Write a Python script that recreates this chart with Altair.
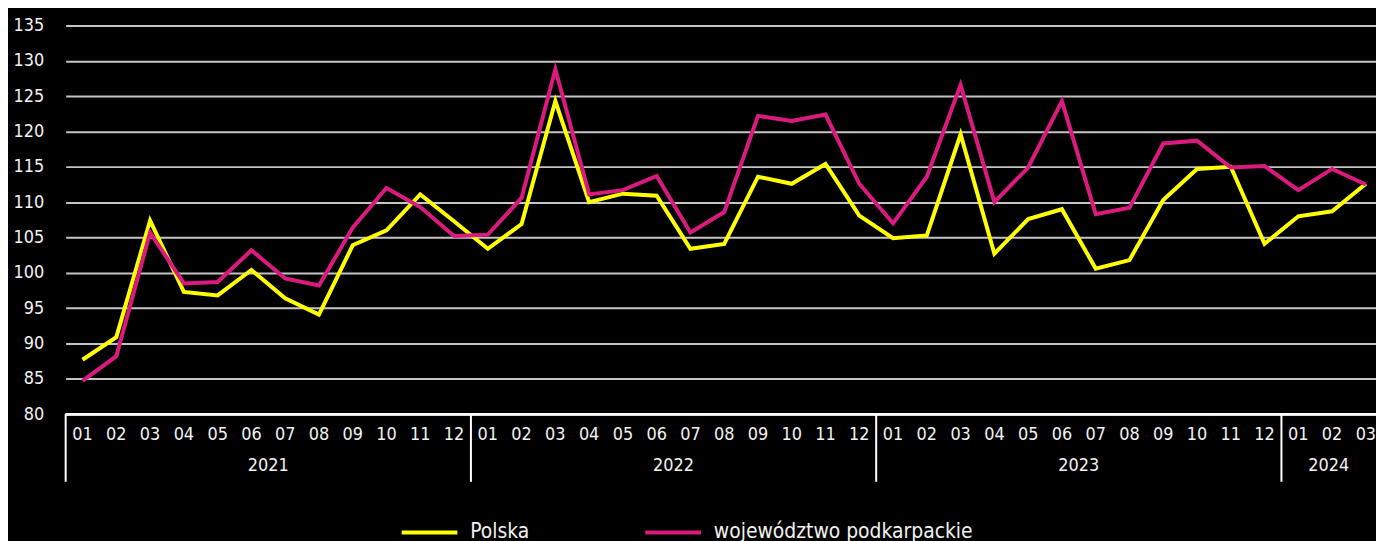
import altair as alt
import pandas as pd

months = ["01", "02", "03", "04", "05", "06", "07", "08", "09", "10", "11", "12"] * 3 + ["01", "02", "03"]
years = ["2021"] * 12 + ["2022"] * 12 + ["2023"] * 12 + ["2024"] * 3

polska = [87.7, 90.9, 107.4, 97.3, 96.8, 100.4, 96.4, 94.1, 103.9, 106.0, 111.1, 107.3,
          103.4, 106.9, 124.3, 110.0, 111.2, 110.9, 103.4, 104.1, 113.6, 112.6, 115.4, 108.1,
          104.9, 105.3, 119.6, 102.7, 107.6, 109.0, 100.6, 101.8, 110.3, 114.7, 115.0, 104.1,
          108.0, 108.7, 112.6]
podkarpackie = [84.7, 88.2, 105.7, 98.5, 98.7, 103.2, 99.2, 98.2, 106.4, 112.0, 109.3, 105.2,
                105.4, 110.6, 128.8, 111.1, 111.7, 113.7, 105.7, 108.6, 122.2, 121.5, 122.4, 112.6,
                107.0, 113.6, 126.6, 110.0, 114.9, 124.3, 108.3, 109.2, 118.3, 118.7, 114.9, 115.1,
                111.7, 114.7, 112.5]
series_names = ["Polska", "województwo podkarpackie"]
series_colors = ["#FFFF00", "#DA1A7E"]

FONT = "DejaVu Sans Condensed, Roboto, sans-serif"
FS = 18
LFS = 21
W, H = 1318, 391
XMAX = 38.3

n = len(months)
idx = list(range(n))
rows = []
for i in idx:
    rows.append({"i": i, "v": polska[i], "s": series_names[0], "o": 0})
    rows.append({"i": i, "v": podkarpackie[i], "s": series_names[1], "o": 1})
df = pd.DataFrame(rows)

mdf = pd.DataFrame({"i": idx, "m": months, "y": years})
ydf = mdf.groupby("y", as_index=False).agg(lo=("i", "min"), hi=("i", "max"))
ydf["c"] = (ydf["lo"] - 0.5 + ydf["hi"].clip(upper=XMAX - 0.5) + 0.5) / 2
sep = pd.DataFrame({"b": list(ydf["lo"] - 0.5)})

xs = alt.Scale(domain=[-0.5, XMAX], nice=False, zero=False)
ys = alt.Scale(domain=[80, 135], nice=False, zero=False)

lines = alt.Chart(df).mark_line(strokeWidth=4, strokeJoin="miter").encode(
    x=alt.X("i:Q", scale=xs, axis=None),
    y=alt.Y("v:Q", scale=ys, axis=alt.Axis(
        values=list(range(80, 140, 5)), grid=True, gridColor="#c4c4c4", gridWidth=2,
        ticks=False, domain=False, labelColor="#f2f2f2", labelFontSize=FS, labelFont=FONT,
        labelPadding=22, labelOverlap=False, labelFlush=False, title=None)),
    color=alt.Color("s:N", scale=alt.Scale(domain=series_names, range=series_colors),
                    legend=alt.Legend(title=None, orient="none", legendX=336, legendY=480,
                                      direction="horizontal", symbolType="stroke",
                                      symbolStrokeWidth=4, symbolSize=3136,
                                      labelFontSize=LFS, labelFont=FONT, labelColor="#f2f2f2",
                                      labelOffset=11, columnPadding=108, padding=0,
                                      labelLimit=400)),
    order=alt.Order("o:Q"),
)

base_rule = alt.Chart(sep).mark_rule(color="#ffffff", strokeWidth=2).encode(
    x=alt.value(0), x2=alt.value(W), y=alt.value(H))

seps = alt.Chart(sep).mark_rule(color="#ffffff", strokeWidth=2).encode(
    x=alt.X("b:Q", scale=xs, axis=None), y=alt.value(H), y2=alt.value(H + 68))

mlab = alt.Chart(mdf).mark_text(color="#f2f2f2", fontSize=FS, font=FONT, baseline="middle").encode(
    x=alt.X("i:Q", scale=xs, axis=None), y=alt.value(H + 21), text="m:N")

ylab = alt.Chart(ydf).mark_text(color="#f2f2f2", fontSize=FS, font=FONT, baseline="middle").encode(
    x=alt.X("c:Q", scale=xs, axis=None), y=alt.value(H + 52), text="y:N")

chart = alt.layer(lines, base_rule, seps, mlab, ylab).properties(
    width=W, height=H,
    autosize=alt.AutoSizeParams(type="none"),
    padding={"left": 58, "top": 16, "right": 0, "bottom": 126},
).configure(background="#000000").configure_view(stroke=None)

chart.save("out.html", embed_options={"renderer": "svg", "actions": False})
